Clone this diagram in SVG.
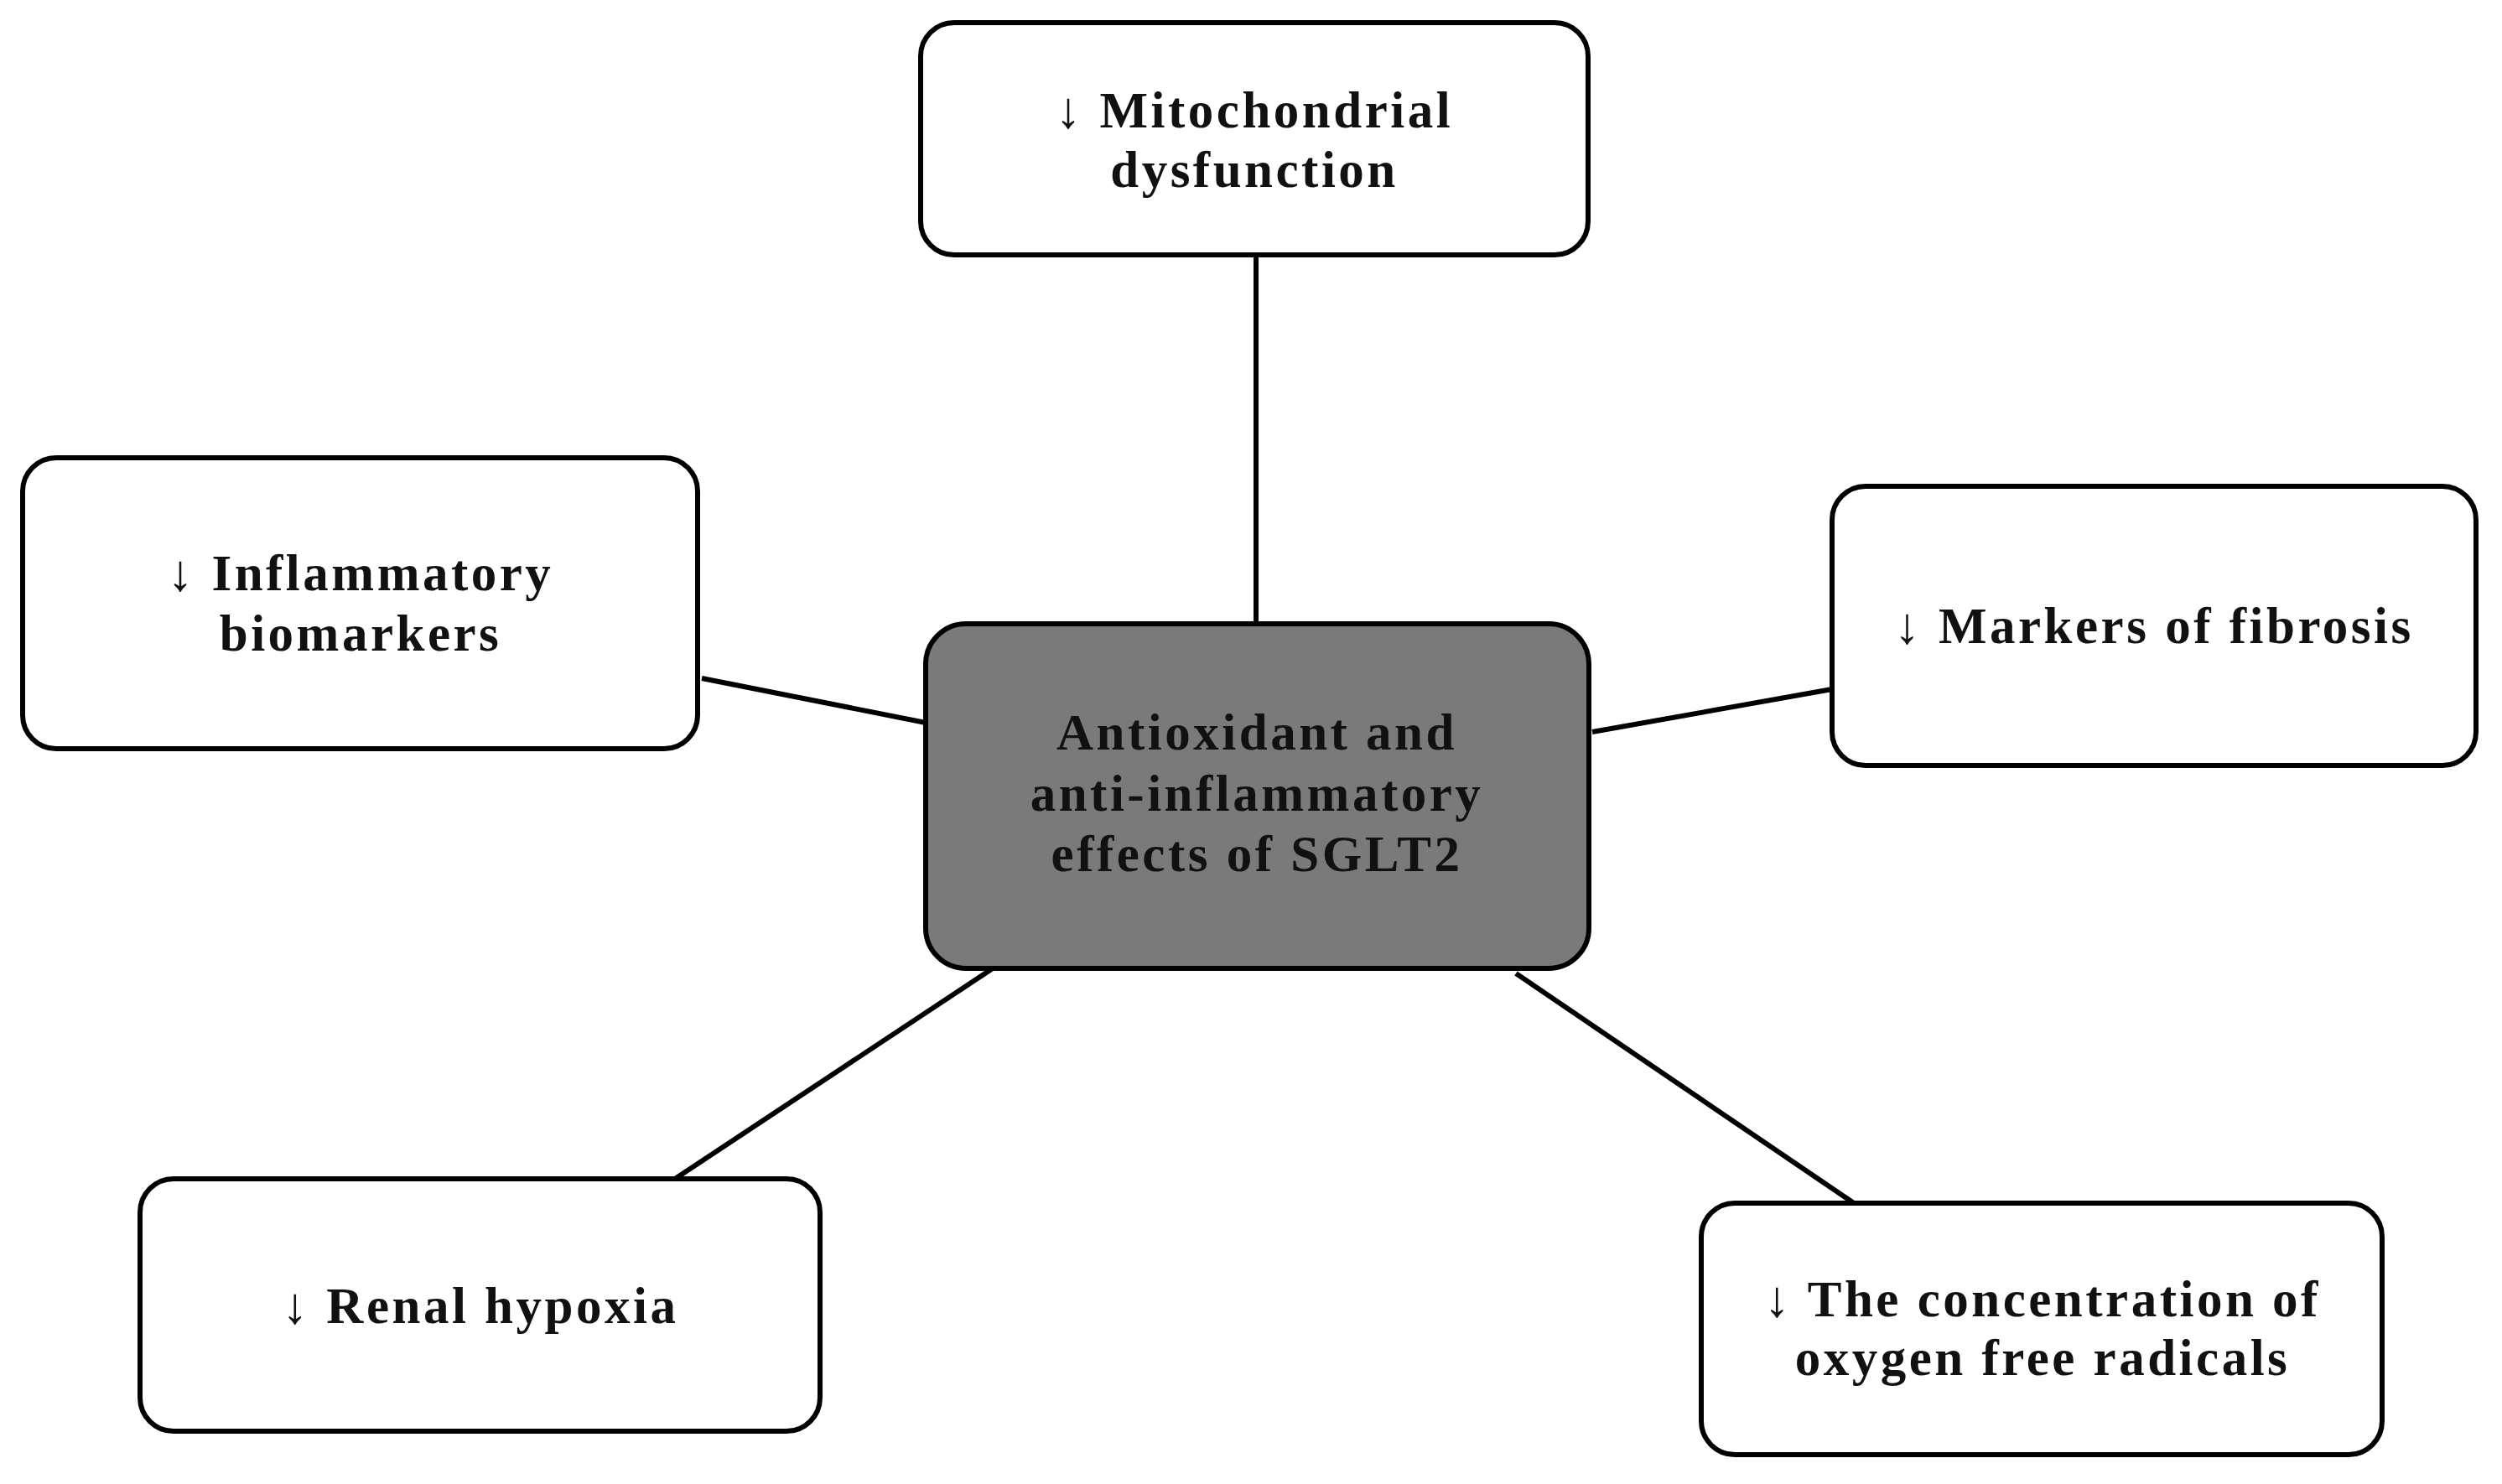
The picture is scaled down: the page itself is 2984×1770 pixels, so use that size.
<svg xmlns="http://www.w3.org/2000/svg" width="2984" height="1770" viewBox="0 0 2984 1770">
<style>
.b{fill:#fff;stroke:#000;stroke-width:6}
.c{fill:#7a7a7a;stroke:#000;stroke-width:6}
.t{font-family:"Liberation Serif","DejaVu Serif",serif;font-weight:bold;font-size:61px;letter-spacing:3.5px;text-anchor:middle;fill:#111}
.l{stroke:#000;stroke-width:6}
</style>
<rect width="2984" height="1770" fill="#fff"/>
<g id="connectors">
<line class="l" x1="1498" y1="304" x2="1498" y2="744"/>
<line class="l" x1="837" y1="809" x2="1104" y2="862"/>
<line class="l" x1="1899" y1="873" x2="2185" y2="822"/>
<line class="l" x1="1184" y1="1155" x2="805" y2="1406"/>
<line class="l" x1="1808" y1="1161" x2="2211" y2="1435"/>
</g>
<g id="center"><rect class="c" x="1104" y="744" width="791" height="411" rx="48"/>
<text class="t" x="1499" y="894">Antioxidant and</text><text class="t" x="1499" y="967">anti-inflammatory</text><text class="t" x="1499" y="1039">effects of SGLT2</text></g>
<g id="top"><rect class="b" x="1098" y="27" width="796" height="277" rx="40"/>
<text class="t" x="1496" y="152">↓ Mitochondrial</text><text class="t" x="1496" y="223">dysfunction</text></g>
<g id="left"><rect class="b" x="27" y="546" width="805" height="347" rx="40"/>
<text class="t" x="430" y="704">↓ Inflammatory</text><text class="t" x="430" y="776">biomarkers</text></g>
<g id="right"><rect class="b" x="2185" y="580" width="768" height="333" rx="40"/>
<text class="t" x="2569" y="767">↓ Markers of fibrosis</text></g>
<g id="bottomleft"><rect class="b" x="167" y="1406" width="811" height="301" rx="40"/>
<text class="t" x="573" y="1578">↓ Renal hypoxia</text></g>
<g id="bottomright"><rect class="b" x="2029" y="1435" width="812" height="300" rx="40"/>
<text class="t" x="2436" y="1570">↓ The concentration of</text><text class="t" x="2436" y="1640">oxygen free radicals</text></g>
</svg>
